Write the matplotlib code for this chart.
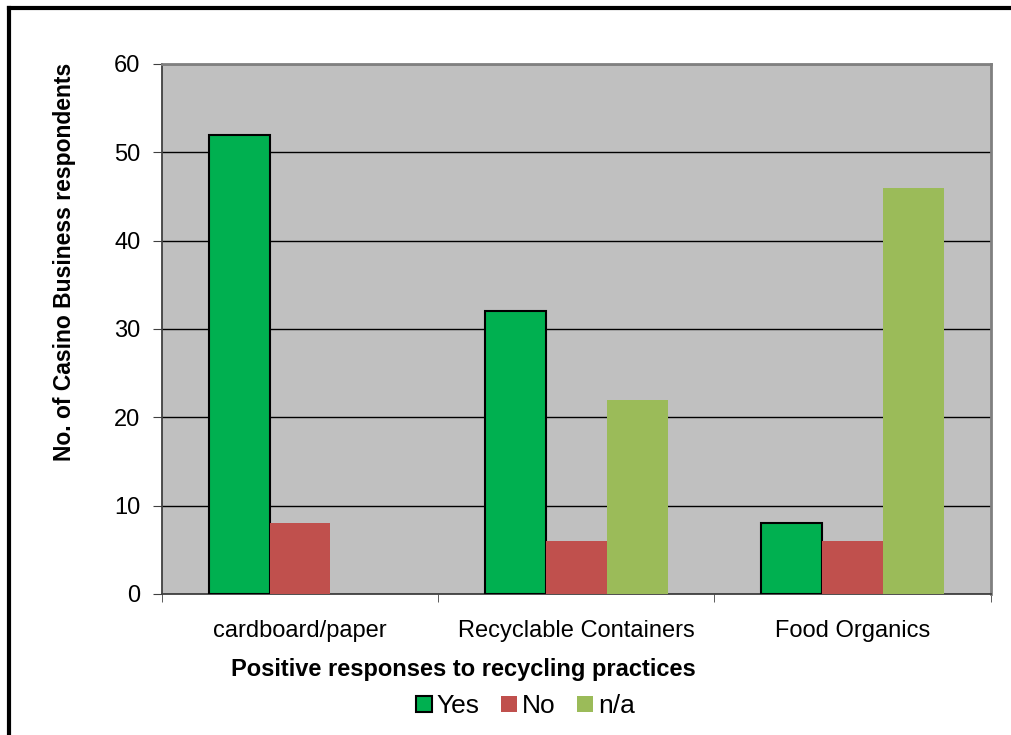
import matplotlib.pyplot as plt
import numpy as np
from matplotlib.patches import Patch
from matplotlib.lines import Line2D

categories = ["cardboard/paper", "Recyclable Containers", "Food Organics"]
yes_vals = [52, 32, 8]
no_vals = [8, 6, 6]
na_vals = [0, 22, 46]

plt.rcParams["font.family"] = ["Liberation Sans", "DejaVu Sans"]

fig = plt.figure(figsize=(10.12, 7.35), dpi=100)
ax = fig.add_axes([0.160, 0.192, 0.819, 0.721])
ax.set_facecolor("#C0C0C0")

x = np.arange(len(categories))
w = 0.22
ax.bar(x - w, yes_vals, w, color="#00B050", edgecolor="black", linewidth=1.5, zorder=3)
ax.bar(x, no_vals, w, color="#C0504D", zorder=3)
ax.bar(x + w, na_vals, w, color="#9BBB59", zorder=3)

ax.set_xlim(-0.5, 2.5)
ax.set_ylim(0, 60)
ax.set_yticks(range(0, 61, 10))
ax.yaxis.grid(True, color="black", linewidth=1, zorder=1)
ax.set_axisbelow(True)

ax.set_xticks(x)
ax.set_xticklabels(categories, fontsize=17)
ax.tick_params(axis="x", length=0, pad=19)
ax.set_xticks([-0.5, 0.5, 1.5, 2.5], minor=True)
ax.tick_params(axis="x", which="minor", length=6, color="#404040")
ax.tick_params(axis="y", labelsize=17, length=6.5, color="#404040", pad=9)

for side in ("left", "bottom"):
    ax.spines[side].set_color("#404040")
    ax.spines[side].set_linewidth(1.3)
for side in ("top", "right"):
    ax.spines[side].set_color("#808080")
    ax.spines[side].set_linewidth(2)

ax.set_ylabel("No. of Casino Business respondents", fontsize=16.5, fontweight="bold", va="center")
ax.yaxis.set_label_coords(-0.117, 0.627)
ax.set_xlabel("Positive responses to recycling practices", fontsize=17, fontweight="bold", va="center")
ax.xaxis.set_label_coords(0.364, -0.143)

handles = [
    Patch(facecolor="#00B050", edgecolor="black", linewidth=1.5),
    Patch(facecolor="#C0504D"),
    Patch(facecolor="#9BBB59"),
]
fig.legend(handles, ["Yes", "No", "n/a"], loc="center", bbox_to_anchor=(0.519, 0.039),
           ncol=3, frameon=False, fontsize=19, handlelength=0.6, handleheight=0.6,
           handletextpad=0.2, columnspacing=0.8)

# outer frame (left and top edges)
fig.add_artist(Line2D([0.009, 0.009], [0, 0.989], color="black", linewidth=3, transform=fig.transFigure))
fig.add_artist(Line2D([0.009, 1.0], [0.989, 0.989], color="black", linewidth=3, transform=fig.transFigure))

fig.savefig("out.png", dpi=100)
